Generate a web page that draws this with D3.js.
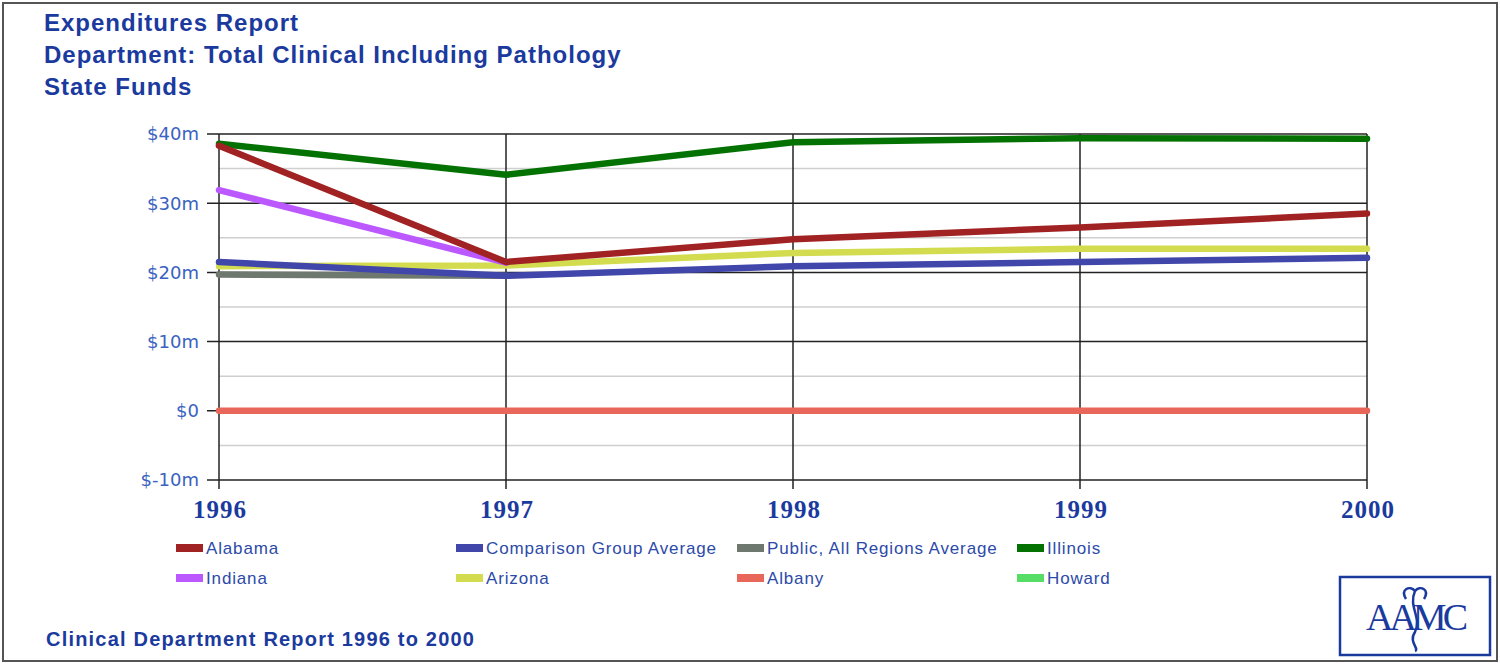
<!DOCTYPE html>
<html>
<head>
<meta charset="utf-8">
<script src="https://cdn.jsdelivr.net/npm/d3@7"></script>
<style>
  body { margin: 0; background: #fff; }
  svg { display: block; }
</style>
</head>
<body>
<div id="svg-container"></div>
<script>
const width = 1500;
const height = 664;
const margin = { top: 134, left: 219, right: 133, bottom: 184 };

// data ($ millions)
const years = [1996, 1997, 1998, 1999, 2000];
const seriesNames = ["Alabama", "Comparison Group Average", "Public, All Regions Average", "Illinois",
                     "Indiana", "Arizona", "Albany", "Howard"];
const seriesColors = ["#a12222", "#4046aa", "#6f786f", "#037203", "#bb58ff", "#d3dc4e", "#e8665a", "#55dd66"];
const alabama = [38.3, 21.5, 24.8, 26.5, 28.5];
const comparison = [21.5, 19.5, 20.9, 21.5, 22.1];
const publicAll = [19.7, 19.5, null, null, null];
const illinois = [38.6, 34.1, 38.8, 39.4, 39.3];
const indiana = [31.9, 21.4, null, null, null];
const arizona = [20.9, 21.0, 22.8, 23.4, 23.4];
const albany = [0, 0, 0, 0, 0];
const howard = [null, null, null, null, null];
const seriesValues = [alabama, comparison, publicAll, illinois, indiana, arizona, albany, howard];

const majorTicks = [40, 30, 20, 10, 0, -10];
const minorTicks = [35, 25, 15, 5, -5];
const titleLines = ["Expenditures Report", "Department: Total Clinical Including Pathology", "State Funds"];
const footer = "Clinical Department Report 1996 to 2000";

const titleBlue = "#1b3a9e";
const labelBlue = "#3a62c0";

let svg = d3.select("#svg-container")
    .append("svg")
    .attr("width", width)
    .attr("height", height)
    .style("font-family", "Arial, 'Liberation Sans', sans-serif");

// outer frame
svg.append("rect")
    .attr("x", 3).attr("y", 3)
    .attr("width", width - 6).attr("height", height - 6)
    .attr("fill", "none")
    .attr("stroke", "#555")
    .attr("stroke-width", 2);

// titles
svg.selectAll(".title")
    .data(titleLines)
    .enter()
    .append("text")
    .attr("class", "title")
    .attr("x", 44)
    .attr("y", (d, i) => 31 + i * 32)
    .attr("fill", titleBlue)
    .attr("font-size", "24px")
    .attr("font-weight", "bold")
    .attr("letter-spacing", "1px")
    .text(d => d);

const x = d3.scalePoint().domain(years).range([margin.left, width - margin.right]);
const y = d3.scaleLinear().domain([-10, 40]).range([480, 134]);

let grid = svg.append("g");

// minor gridlines
grid.selectAll(".minor")
    .data(minorTicks)
    .enter()
    .append("line")
    .attr("x1", x(1996)).attr("x2", x(2000))
    .attr("y1", d => y(d)).attr("y2", d => y(d))
    .attr("stroke", "#cfcfcf")
    .attr("stroke-width", 1.5);

// major gridlines with ticks
grid.selectAll(".major")
    .data(majorTicks)
    .enter()
    .append("line")
    .attr("x1", x(1996) - 12).attr("x2", x(2000))
    .attr("y1", d => y(d)).attr("y2", d => y(d))
    .attr("stroke", "#222")
    .attr("stroke-width", 1.5);

// vertical year lines
grid.selectAll(".vline")
    .data(years)
    .enter()
    .append("line")
    .attr("x1", d => x(d)).attr("x2", d => x(d))
    .attr("y1", y(40)).attr("y2", y(-10) + 9)
    .attr("stroke", "#222")
    .attr("stroke-width", 1.5);

// y labels
svg.selectAll(".ylab")
    .data(majorTicks)
    .enter()
    .append("text")
    .attr("x", 199)
    .attr("y", d => y(d))
    .attr("dy", "0.36em")
    .attr("text-anchor", "end")
    .attr("fill", labelBlue)
    .attr("font-size", "18px")
    .attr("font-family", "'DejaVu Sans', Verdana, sans-serif")
    .text(d => d === 0 ? "$0" : "$" + d + "m");

// x labels
svg.selectAll(".xlab")
    .data(years)
    .enter()
    .append("text")
    .attr("x", d => x(d) + 1)
    .attr("y", 518)
    .attr("text-anchor", "middle")
    .attr("fill", titleBlue)
    .attr("font-size", "25px")
    .attr("font-weight", "bold")
    .attr("letter-spacing", "1px")
    .attr("font-family", "'Liberation Serif', 'Times New Roman', serif")
    .text(d => d);

// lines, drawn last legend entry first so Alabama ends on top
const line = d3.line()
    .defined(d => d.v !== null)
    .x(d => x(d.year))
    .y(d => y(d.v));

let layer = svg.append("g");
for (let i = seriesNames.length - 1; i >= 0; i--) {
    let pts = years.map((yr, j) => ({ year: yr, v: seriesValues[i][j] }));
    layer.append("path")
        .datum(pts)
        .attr("d", line)
        .attr("fill", "none")
        .attr("stroke", seriesColors[i])
        .attr("stroke-width", 6.5)
        .attr("stroke-linejoin", "round")
        .attr("stroke-linecap", "round");
}

// legend
const legendX = [176, 456, 737, 1017];
let legend = svg.append("g");
let items = legend.selectAll("g")
    .data(seriesNames)
    .enter()
    .append("g")
    .attr("transform", (d, i) => "translate(" + legendX[i % 4] + "," + (548 + Math.floor(i / 4) * 30) + ")");

items.append("rect")
    .attr("x", 0).attr("y", -4)
    .attr("width", 27).attr("height", 8)
    .attr("fill", (d, i) => seriesColors[i]);

items.append("text")
    .attr("x", 30)
    .attr("y", 0)
    .attr("dy", "0.36em")
    .attr("fill", "#2c4aa8")
    .attr("font-size", "17px")
    .attr("letter-spacing", "0.85px")
    .text(d => d);

// footer
svg.append("text")
    .attr("x", 46)
    .attr("y", 646)
    .attr("fill", titleBlue)
    .attr("font-size", "20px")
    .attr("font-weight", "bold")
    .attr("letter-spacing", "1.2px")
    .text(footer);

// logo
let logo = svg.append("g").attr("transform", "translate(1340,577)");
logo.append("rect")
    .attr("width", 150).attr("height", 78)
    .attr("fill", "none")
    .attr("stroke", "#1b3a9e")
    .attr("stroke-width", 2.5);
logo.append("text")
    .attr("x", 75).attr("y", 53)
    .attr("text-anchor", "middle")
    .attr("fill", "#1b3a9e")
    .attr("font-size", "38px")
    .attr("font-family", "'Liberation Serif', 'Times New Roman', serif")
    .attr("letter-spacing", "-4px")
    .text("AAMC");
logo.append("path")
    .attr("d", "M66,22 C60,12 70,8 75,14 C80,8 90,12 84,22 M75,14 C68,30 82,40 75,55 C68,65 80,72 75,74")
    .attr("fill", "none")
    .attr("stroke", "#1b3a9e")
    .attr("stroke-width", 2.5);
</script>
</body>
</html>
